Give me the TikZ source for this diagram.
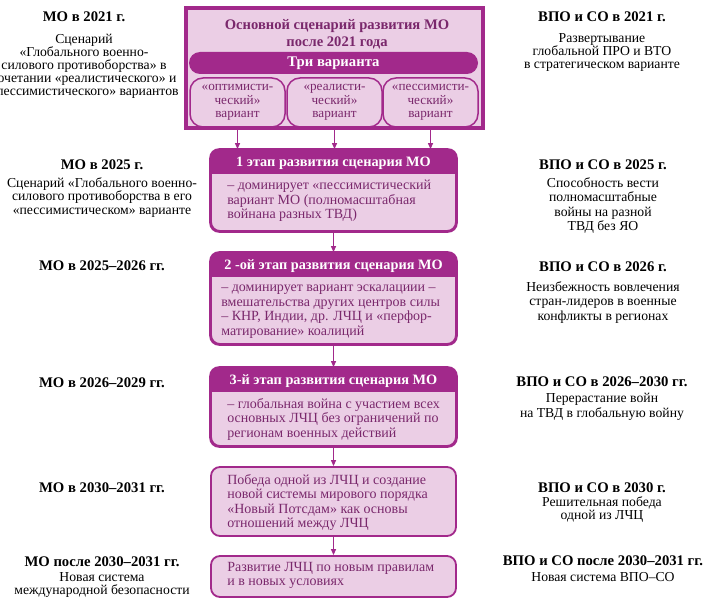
\documentclass[tikz,border=0pt]{standalone}
\usepackage{fontspec}
\setmainfont{Liberation Serif}
\usetikzlibrary{arrows.meta,positioning}
\definecolor{moPurple}{HTML}{A2298B}
\definecolor{moFill}{HTML}{EBCEE5}
\definecolor{moText}{HTML}{7A286C}
\begin{document}
\begin{tikzpicture}[
    x=1pt, y=-1pt,
    >={Triangle[length=6pt,width=5pt]},
    arrow/.style={->, draw=moPurple, fill=moPurple, line width=1.2pt},
    stagebox/.style={draw=moPurple, line width=1.8pt, fill=moFill, rounded corners=9pt, minimum width=245pt, inner sep=0pt},
    stagehead/.style={font=\bfseries\fontsize{14.3}{15}\selectfont, text=white, inner sep=0pt, anchor=base},
    stagetext/.style={font=\fontsize{14}{14.4}\selectfont, text=moText, align=left, anchor=north west, inner sep=0pt},
    variant/.style={draw=moPurple, line width=1.5pt, rounded corners=13pt, minimum width=95pt, minimum height=49pt, inner sep=0pt, align=center, text=moText, font=\fontsize{13.2}{13.6}\selectfont},
    colhead/.style={font=\bfseries\fontsize{14.7}{15}\selectfont, inner sep=0pt, anchor=base},
    coltext/.style={font=\fontsize{13.7}{13.8}\selectfont, align=center, anchor=north, inner sep=0pt}
]
  \useasboundingbox (0,0) rectangle (705,599);

  % top block with the three variants
  \node[draw=moPurple, line width=3.5pt, fill=moFill, minimum width=297pt, minimum height=120pt, inner sep=0pt] (main) at (334.5,68) {};
  \node[font=\bfseries\fontsize{14.6}{17}\selectfont, text=moText, align=center, inner sep=0pt, anchor=north] (mainT) at (337,19.5) {Основной сценарий развития МО\\после 2021 года};
  \node[fill=moPurple, rounded corners=11pt, minimum width=289pt, minimum height=22pt, inner sep=0pt, text=white, font=\bfseries\fontsize{14.7}{15}\selectfont] (three) at (333.5,63) {Три варианта};
  \node[variant] (opt) at (237.5,102.5) {«оптимисти-\\ческий»\\вариант};
  \node[variant] (real) at (334.5,102.5) {«реалисти-\\ческий»\\вариант};
  \node[variant] (pess) at (430.5,102.5) {«пессимисти-\\ческий»\\вариант};

  % stages
  \node[stagebox, minimum height=81pt] (s1) at (333.5,190.5) {};
  \node[stagebox, minimum height=91pt] (s2) at (333.5,298.5) {};
  \node[stagebox, minimum height=78pt] (s3) at (333.5,407) {};
  \node[stagebox, minimum height=69pt] (s4) at (333.5,501.5) {};
  \node[stagebox, minimum height=41pt] (s5) at (333.5,576.5) {};

  \foreach \s in {s1,s2,s3} {
    \begin{scope}
      \clip[rounded corners=9pt] (\s.north west) rectangle (\s.south east);
      \fill[moPurple] (\s.north west) rectangle ([yshift=-25pt]\s.north east);
    \end{scope}
    \draw[moPurple, line width=1.8pt, rounded corners=9pt] (\s.north west) rectangle (\s.south east);
  }

  \node[stagehead] (h1) at ([yshift=-17.5pt]s1.north) {1 этап развития сценария МО};
  \node[stagehead] (h2) at ([yshift=-17.5pt]s2.north) {2 -ой этап развития сценария МО};
  \node[stagehead] (h3) at ([yshift=-17.5pt]s3.north) {3-й этап развития сценария МО};

  \node[stagetext] (t1) at ([xshift=17pt,yshift=-31pt]s1.north west) {– доминирует «пессимистический\\вариант МО (полномасштабная\\войнана разных ТВД)};
  \node[stagetext] (t2) at ([xshift=11pt,yshift=-33pt]s2.north west) {– доминирует вариант эскалациии –\\вмешательства других центров силы\\– КНР, Индии, др. ЛЧЦ и «перфор-\\матирование» коалиций};
  \node[stagetext] (t3) at ([xshift=17pt,yshift=-31pt]s3.north west) {– глобальная война с участием всех\\основных ЛЧЦ без ограничений по\\регионам военных действий};
  \node[stagetext] (t4) at ([xshift=17pt,yshift=-8pt]s4.north west) {Победа одной из ЛЧЦ и создание\\новой системы мирового порядка\\«Новый Потсдам» как основы\\отношений между ЛЧЦ};
  \node[stagetext] (t5) at ([xshift=17pt,yshift=-7pt]s5.north west) {Развитие ЛЧЦ по новым правилам\\и в новых условиях};

  % connectors
  \draw[arrow] (opt.south) -- (opt.south |- s1.north);
  \draw[arrow] (real.south) -- (real.south |- s1.north);
  \draw[arrow] (pess.south) -- (pess.south |- s1.north);
  \draw[arrow] (s1) -- (s2);
  \draw[arrow] (s2) -- (s3);
  \draw[arrow] (s3) -- (s4);
  \draw[arrow] (s4) -- (s5);

  % left column
  \node[colhead] (mo1) at (84,22) {МО в 2021 г.};
  \node[coltext, font=\fontsize{13.7}{13}\selectfont] (mo1t) at (84,33.5) {Сценарий\\«Глобального военно-\\силового противоборства» в\\сочетании «реалистического» и\\«пессимистического» вариантов};
  \node[colhead] (mo2) at (102,170) {МО в 2025 г.};
  \node[coltext] (mo2t) at (102,177) {Сценарий «Глобального военно-\\силового противоборства в его\\«пессимистическом» варианте};
  \node[colhead] (mo3) at (102,270) {МО в 2025–2026 гг.};
  \node[colhead] (mo4) at (102,387) {МО в 2026–2029 гг.};
  \node[colhead] (mo5) at (102,492) {МО в 2030–2031 гг.};
  \node[colhead] (mo6) at (102,566.5) {МО после 2030–2031 гг.};
  \node[coltext, font=\fontsize{13.7}{13.5}\selectfont] (mo6t) at (102,572) {Новая система\\международной безопасности};

  % right column
  \node[colhead] (vpo1) at (602,22) {ВПО и СО в 2021 г.};
  \node[coltext, font=\fontsize{13.7}{13}\selectfont] (vpo1t) at (602,33.5) {Развертывание\\глобальной ПРО и ВТО\\в стратегическом варианте};
  \node[colhead] (vpo2) at (603,170) {ВПО и СО в 2025 г.};
  \node[coltext, font=\fontsize{13.7}{14.5}\selectfont] (vpo2t) at (603,177) {Способность вести\\полномасштабные\\войны на разной\\ТВД без ЯО};
  \node[colhead] (vpo3) at (603,272) {ВПО и СО в 2026 г.};
  \node[coltext, font=\fontsize{13.7}{14.5}\selectfont] (vpo3t) at (603,281) {Неизбежность вовлечения\\стран-лидеров в военные\\конфликты в регионах};
  \node[colhead] (vpo4) at (602,386) {ВПО и СО в 2026–2030 гг.};
  \node[coltext, font=\fontsize{13.7}{15}\selectfont] (vpo4t) at (602,393) {Перерастание войн\\на ТВД в глобальную войну};
  \node[colhead] (vpo5) at (602,492) {ВПО и СО в 2030 г.};
  \node[coltext] (vpo5t) at (602,496) {Решительная победа\\одной из ЛЧЦ};
  \node[colhead] (vpo6) at (603,565) {ВПО и СО после 2030–2031 гг.};
  \node[coltext] (vpo6t) at (603,572) {Новая система ВПО–СО};
\end{tikzpicture}
\end{document}
